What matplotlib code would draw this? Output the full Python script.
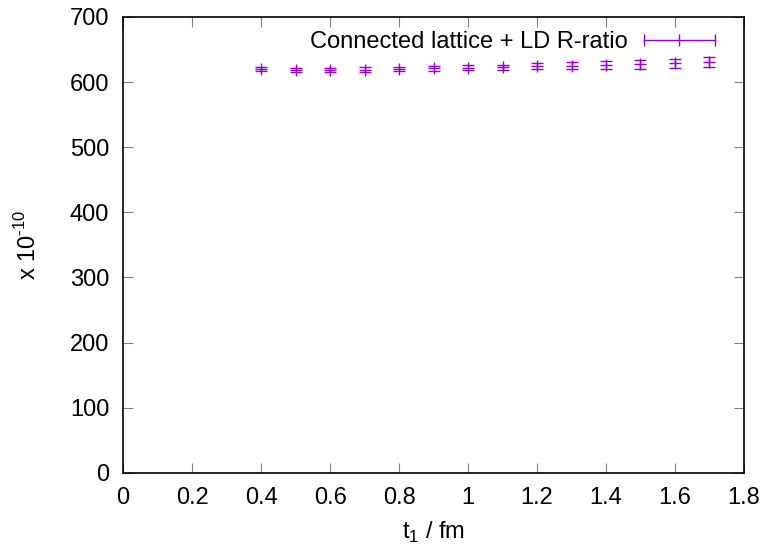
import matplotlib.pyplot as plt
from matplotlib.legend_handler import HandlerBase
from matplotlib.lines import Line2D

plt.rcParams['font.family'] = ['Liberation Sans', 'DejaVu Sans']
plt.rcParams['mathtext.fontset'] = 'custom'
plt.rcParams['mathtext.rm'] = 'Liberation Sans'

# t1 values and integrand (x 10^-10)
t1 = [0.4, 0.5, 0.6, 0.7, 0.8, 0.9, 1.0, 1.1, 1.2, 1.3, 1.4, 1.5, 1.6, 1.7]
amu = [619.5, 619, 618.5, 619, 620, 621, 622, 622.6, 624.4, 625, 626, 627, 628.5, 630.5]
err = [3, 3, 3.2, 3.4, 3.6, 3.8, 4, 4.3, 4.7, 5.1, 5.6, 6.2, 7, 8]

col = '#9400d3'


class GnuErrHandler(HandlerBase):
    # gnuplot-like key sample: horizontal bar with ticks at ends and middle
    def create_artists(self, legend, orig, xd, yd, w, h, fs, trans):
        y = h / 2 - yd
        line = Line2D([-xd, -xd + w], [y, y], color=col, lw=1, transform=trans)
        ticks = Line2D([-xd, -xd + w / 2, -xd + w], [y, y, y], ls='none',
                       marker='|', ms=9, mew=1, color=col, transform=trans)
        return [line, ticks]


fig = plt.figure(figsize=(7.65, 5.46), dpi=100)
ax = fig.add_axes([0.161, 0.134, 0.8115, 0.835])

eb = ax.errorbar(t1, amu, yerr=err, fmt='+', color=col, ms=8, mew=1,
                 elinewidth=1, capsize=4, capthick=1,
                 label='Connected lattice + LD R-ratio')

ax.set_xlim(0, 1.8)
ax.set_ylim(0, 700)
ax.set_xticks([0, 0.2, 0.4, 0.6, 0.8, 1, 1.2, 1.4, 1.6, 1.8])
ax.set_xticklabels(['0', '0.2', '0.4', '0.6', '0.8', '1', '1.2', '1.4', '1.6', '1.8'])
ax.set_yticks(range(0, 701, 100))
ax.tick_params(direction='in', top=True, right=True, length=7, color='#808080',
               labelsize=17, pad=10)
for s in ax.spines.values():
    s.set_linewidth(1.2)

ax.set_xlabel('t$_\\mathregular{1}$ / fm', fontsize=17, labelpad=8)
ax.set_ylabel('x 10$^{\\text{-10}}$', fontsize=17, labelpad=21)

ax.legend(handles=[eb], loc='upper right', bbox_to_anchor=(0.976, 1.0),
          frameon=False, markerfirst=False,
          fontsize=17, handlelength=3.0, handletextpad=0.7, borderaxespad=0.2,
          handler_map={type(eb): GnuErrHandler()})

fig.savefig('out.png', dpi=100)
